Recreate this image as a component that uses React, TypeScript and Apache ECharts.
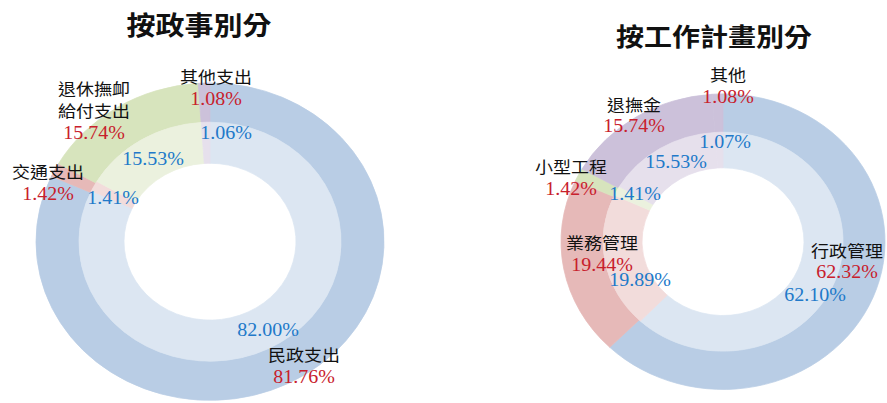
import React, { useEffect, useRef } from "react";
import * as echarts from "echarts";

// ---- data ----
const LEFT_TITLE = "按政事別分";
const LEFT_NAMES = ["民政支出", "交通支出", "退休撫卹給付支出", "其他支出"];
const LEFT_LABEL_LINES = [["民政支出"], ["交通支出"], ["退休撫卹", "給付支出"], ["其他支出"]];
const LEFT_OUTER = [81.76, 1.42, 15.74, 1.08];
const LEFT_INNER = [82.0, 1.41, 15.53, 1.06];

const RIGHT_TITLE = "按工作計畫別分";
const RIGHT_NAMES = ["行政管理", "業務管理", "小型工程", "退撫金", "其他"];
const RIGHT_LABEL_LINES = [["行政管理"], ["業務管理"], ["小型工程"], ["退撫金"], ["其他"]];
const RIGHT_OUTER = [62.32, 19.44, 1.42, 15.74, 1.08];
const RIGHT_INNER = [62.1, 19.89, 1.41, 15.53, 1.07];

// ---- styles / layout ----
const W = 887;
const H_SCREEN = 403;
const SQUASH = 0.912;
const H = Math.round(H_SCREEN / SQUASH);

const LEFT_OUTER_COLORS = ["#B9CDE5", "#E6B9B8", "#D7E4BD", "#CCC1DA"];
const LEFT_INNER_COLORS = ["#DCE6F2", "#F2DCDB", "#EBF1DE", "#E6E0EC"];
const RIGHT_OUTER_COLORS = ["#B9CDE5", "#E6B9B8", "#D7E4BD", "#CCC1DA", "#CCC1DA"];
const RIGHT_INNER_COLORS = ["#DCE6F2", "#F2DCDB", "#EBF1DE", "#E6E0EC", "#E6E0EC"];

const RED = "#C8202C";
const BLUE = "#2179C9";
const CJK = '"Noto Sans CJK TC", "Noto Sans CJK SC", sans-serif';
const NUM = '"Liberation Serif", "Times New Roman", serif';

// label anchor positions (chart coordinates, before vertical squash)
const LEFT_OUTER_POS = [[304, 401], [48, 200], [94, 121], [216, 96]];
const LEFT_INNER_POS = [[268, 362], [113, 217], [153, 174], [226, 146]];
const RIGHT_OUTER_POS = [[847, 286], [602, 278], [571, 194], [634, 126], [728, 94]];
const RIGHT_INNER_POS = [[815, 323], [640, 307], [635, 212], [676, 177], [725, 156]];

const pct = (v: number) => v.toFixed(2) + "%";

const slice = (name: string, v: number, color: string) => ({
  name,
  value: v,
  itemStyle: { color, borderColor: color, borderWidth: 0.8 },
});

function outerSeries(
  names: string[],
  lines: string[][],
  values: number[],
  colors: string[],
  center: number[],
  radius: number[],
  pos: number[][],
) {
  return {
    type: "pie",
    center,
    radius,
    startAngle: 90,
    clockwise: true,
    silent: true,
    emphasis: { disabled: true },
    labelLine: { show: false },
    label: {
      show: true,
      position: "inside",
      formatter: (p: any) =>
        lines[p.dataIndex].map((l) => `{n|${l}}`).join("\n") + `\n{v|${pct(p.value)}}`,
      rich: {
        n: { fontFamily: CJK, fontSize: 18, color: "#111", lineHeight: 25, align: "center" },
        v: { fontFamily: NUM, fontSize: 20, color: RED, lineHeight: 25, align: "center" },
      },
    },
    labelLayout: (p: any) => ({
      x: pos[p.dataIndex][0],
      y: pos[p.dataIndex][1],
      align: "center",
      verticalAlign: "middle",
    }),
    data: values.map((v, i) => slice(names[i], v, colors[i])),
  };
}

function innerSeries(
  names: string[],
  values: number[],
  colors: string[],
  center: number[],
  radius: number[],
  pos: number[][],
) {
  return {
    type: "pie",
    center,
    radius,
    startAngle: 90,
    clockwise: true,
    silent: true,
    emphasis: { disabled: true },
    labelLine: { show: false },
    label: {
      show: true,
      position: "inside",
      formatter: (p: any) => pct(p.value),
      fontFamily: NUM,
      fontSize: 20,
      color: BLUE,
    },
    labelLayout: (p: any) => ({
      x: pos[p.dataIndex][0],
      y: pos[p.dataIndex][1],
      align: "center",
      verticalAlign: "middle",
    }),
    data: values.map((v, i) => slice(names[i], v, colors[i])),
  };
}

export default function App() {
  const ref = useRef<HTMLDivElement>(null);

  useEffect(() => {
    if (!ref.current) return;
    const chart = echarts.init(ref.current, null, { renderer: "svg" });
    const leftC = [210, 265];
    const rightC = [723, 265];
    chart.setOption({
      animation: false,
      backgroundColor: "#ffffff",
      graphic: [
        {
          type: "text",
          x: 199,
          y: 26,
          style: {
            text: LEFT_TITLE,
            font: `bold 29px ${CJK}`,
            fill: "#111",
            align: "center",
            verticalAlign: "middle",
          },
        },
        {
          type: "text",
          x: 714,
          y: 38,
          style: {
            text: RIGHT_TITLE,
            font: `bold 28px ${CJK}`,
            fill: "#111",
            align: "center",
            verticalAlign: "middle",
          },
        },
      ],
      series: [
        outerSeries(LEFT_NAMES, LEFT_LABEL_LINES, LEFT_OUTER, LEFT_OUTER_COLORS, leftC, [131, 174], LEFT_OUTER_POS),
        innerSeries(LEFT_NAMES, LEFT_INNER, LEFT_INNER_COLORS, leftC, [86, 131], LEFT_INNER_POS),
        outerSeries(RIGHT_NAMES, RIGHT_LABEL_LINES, RIGHT_OUTER, RIGHT_OUTER_COLORS, rightC, [120, 162], RIGHT_OUTER_POS),
        innerSeries(RIGHT_NAMES, RIGHT_INNER, RIGHT_INNER_COLORS, rightC, [81, 120], RIGHT_INNER_POS),
      ],
    });
    return () => chart.dispose();
  }, []);

  return (
    <div
      style={{
        position: "absolute",
        left: 0,
        top: 0,
        width: W,
        height: H_SCREEN,
        overflow: "hidden",
        background: "#fff",
      }}
    >
      <div
        ref={ref}
        style={{
          width: W,
          height: H,
          transform: `scaleY(${SQUASH})`,
          transformOrigin: "0 0",
        }}
      />
    </div>
  );
}
